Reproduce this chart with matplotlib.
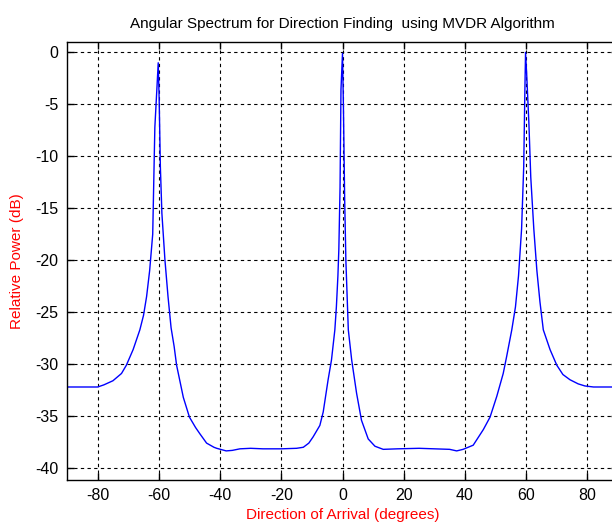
import matplotlib
matplotlib.use("Agg")
import matplotlib.pyplot as plt

angles_deg = [-90, -85, -80, -78, -75, -72.2, -70.6, -68.4, -66.2, -65, -64, -63, -62,
              -61.3, -60.6, -60.2, -59.9, -59.5, -59.0, -58.0, -57.0, -56.0, -55.0,
              -54.2, -52, -50, -48, -46.6, -44.4, -42, -41.1, -38, -36, -33.5, -30,
              -26, -20, -15, -12.8, -11, -9.6, -7.4, -6.3, -4.7, -3.6, -2.5, -2.0,
              -1.5, -1.2, -0.8, -0.5, 0.0, 0.3, 0.7, 1.1, 1.9, 3.0, 4.6, 6.2, 8.4,
              10.6, 13.3, 18, 25, 30, 35, 37.3, 39.4, 42.7, 46.0, 48.2, 50.4, 52.5,
              53.6, 55.3, 56.5, 57.5, 58.5, 59.2, 59.6, 59.8, 60.2, 60.9, 61.5, 62.5,
              63.5, 64.5, 65.6, 67.8, 70, 72, 74.3, 77, 79.2, 82, 90]
power_db = [-32.2, -32.2, -32.2, -32.0, -31.6, -30.9, -30.1, -28.6, -26.7, -25.3, -23.5,
            -21.0, -17.5, -7.2, -3.3, -1.0, -4.4, -11.0, -15.5, -20.0, -23.5, -26.5,
            -28.3, -30.1, -33.2, -35.1, -36.1, -36.7, -37.6, -38.0, -38.1, -38.35,
            -38.3, -38.15, -38.1, -38.15, -38.15, -38.1, -38.0, -37.6, -37.0, -35.9,
            -34.6, -31.5, -29.6, -26.7, -24.5, -21.5, -19.0, -13.0, -3.6, -0.1, -5.2,
            -14.0, -20.0, -26.7, -29.6, -32.8, -35.4, -37.2, -37.9, -38.2, -38.15,
            -38.1, -38.15, -38.2, -38.35, -38.2, -37.8, -36.3, -35.1, -33.1, -30.9,
            -29.3, -26.7, -24.5, -21.5, -17.0, -11.0, -3.3, 0.0, -2.3, -6.9, -12.0,
            -17.0, -21.0, -24.0, -26.7, -28.6, -30.1, -31.0, -31.5, -31.9, -32.1,
            -32.2, -32.2]

xticks = [-80, -60, -40, -20, 0, 20, 40, 60, 80]
yticks = [0, -5, -10, -15, -20, -25, -30, -35, -40]

plt.rcParams['font.family'] = ['Liberation Sans', 'DejaVu Sans']

fig = plt.figure(figsize=(6.12, 5.24), dpi=100)
ax = fig.add_axes([67 / 612, 1 - 480 / 524, 551 / 612, 438 / 524])
ax.plot(angles_deg, power_db, color=(0, 0, 1), linewidth=1.0)
ax.set_xlim(-90, 90)
ax.set_ylim(-41.15, 1.0)
ax.set_xticks(xticks)
ax.set_yticks(yticks)
ax.set_yticklabels([str(v) for v in yticks])
ax.set_xticklabels([str(v) for v in xticks])
ax.grid(True, color='black', linestyle=(0, (3, 3)), linewidth=0.8)
ax.tick_params(direction='in', length=5, width=1, labelsize=11.5, top=True, right=True,
               pad=6, colors='black')
for s in ax.spines.values():
    s.set_linewidth(1.0)
ax.set_title('Angular Spectrum for Direction Finding  using MVDR Algorithm',
             fontsize=11, pad=10)
ax.set_xlabel('Direction of Arrival (degrees)', color='red', fontsize=11, labelpad=3)
ax.set_ylabel('Relative Power (dB)', color='red', fontsize=11, labelpad=8)
fig.savefig('out.png', dpi=100)
